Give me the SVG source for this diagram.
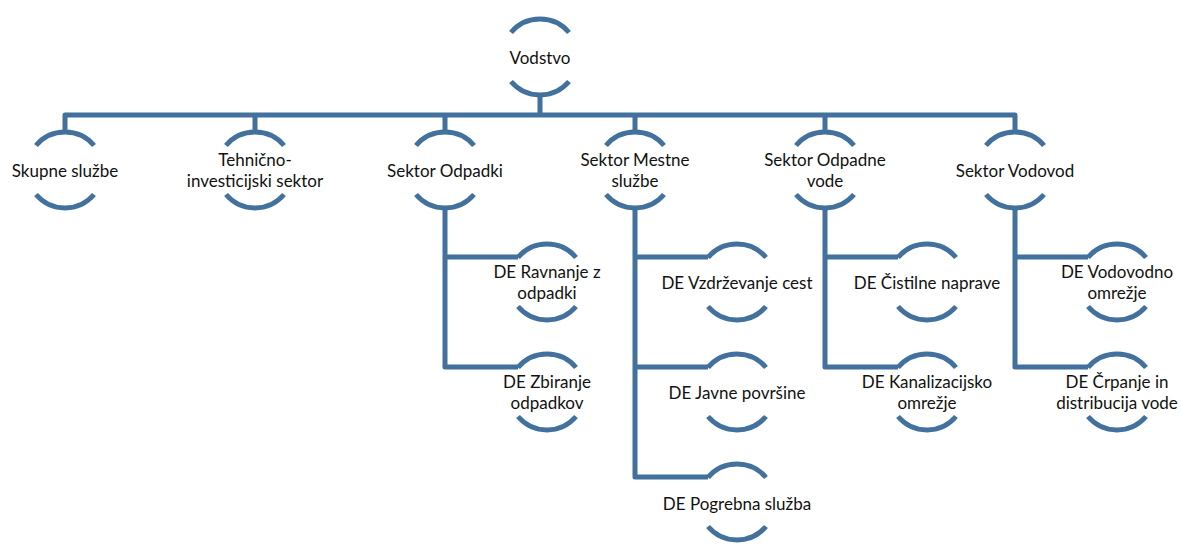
<svg xmlns="http://www.w3.org/2000/svg" width="1181" height="545" viewBox="0 0 1181 545">
<defs>
<style>
.arc{fill:none;stroke:#41719C;stroke-width:5;stroke-linecap:butt}
.con{fill:none;stroke:#41719C;stroke-width:5;stroke-linejoin:round}
text{font-family:Lato,"Liberation Sans",sans-serif;font-size:17px;fill:#111;text-anchor:middle;dominant-baseline:central}
</style>
</defs>
<rect width="1181" height="545" fill="#fff"/>
<g id="connectors">
<path class="con" d="M540 95V115M65 131V115H1015V131M255 115V131M445 115V131M635 115V131M825 115V131"/>
<path class="con" d="M445 208V367H518M445 257H518"/>
<path class="con" d="M635 208V477H708M635 257H708M635 367H708"/>
<path class="con" d="M825 208V367H898M825 257H898"/>
<path class="con" d="M1015 208V367H1088M1015 257H1088"/>
</g>
<g id="vodstvo"><path class="arc" d="M511 32.5A38 38 0 0 1 569 32.5M511 81.5A38 38 0 0 0 569 81.5"/><text x="540" y="57">Vodstvo</text></g>
<g id="skupne"><path class="arc" d="M36 145.5A38 38 0 0 1 94 145.5M36 194.5A38 38 0 0 0 94 194.5"/><text x="65" y="170">Skupne službe</text></g>
<g id="tehnicno"><path class="arc" d="M226 145.5A38 38 0 0 1 284 145.5M226 194.5A38 38 0 0 0 284 194.5"/><text x="255" y="159.5">Tehnično-</text><text x="255" y="180.5">investicijski sektor</text></g>
<g id="odpadki"><path class="arc" d="M416 145.5A38 38 0 0 1 474 145.5M416 194.5A38 38 0 0 0 474 194.5"/><text x="445" y="170">Sektor Odpadki</text></g>
<g id="mestne"><path class="arc" d="M606 145.5A38 38 0 0 1 664 145.5M606 194.5A38 38 0 0 0 664 194.5"/><text x="635" y="159.5">Sektor Mestne</text><text x="635" y="180.5">službe</text></g>
<g id="odpadne"><path class="arc" d="M796 145.5A38 38 0 0 1 854 145.5M796 194.5A38 38 0 0 0 854 194.5"/><text x="825" y="159.5">Sektor Odpadne</text><text x="825" y="180.5">vode</text></g>
<g id="vodovod"><path class="arc" d="M986 145.5A38 38 0 0 1 1044 145.5M986 194.5A38 38 0 0 0 1044 194.5"/><text x="1015" y="170">Sektor Vodovod</text></g>
<g id="ravnanje"><path class="arc" d="M518 257.5A38 38 0 0 1 576 257.5M518 306.5A38 38 0 0 0 576 306.5"/><text x="547" y="271.5">DE Ravnanje z</text><text x="547" y="292.5">odpadki</text></g>
<g id="zbiranje"><path class="arc" d="M518 367.5A38 38 0 0 1 576 367.5M518 416.5A38 38 0 0 0 576 416.5"/><text x="547" y="381.5">DE Zbiranje</text><text x="547" y="402.5">odpadkov</text></g>
<g id="vzdrzevanje"><path class="arc" d="M708 257.5A38 38 0 0 1 766 257.5M708 306.5A38 38 0 0 0 766 306.5"/><text x="737" y="282">DE Vzdrževanje cest</text></g>
<g id="javne"><path class="arc" d="M708 367.5A38 38 0 0 1 766 367.5M708 416.5A38 38 0 0 0 766 416.5"/><text x="737" y="392">DE Javne površine</text></g>
<g id="pogrebna"><path class="arc" d="M708 477.5A38 38 0 0 1 766 477.5M708 526.5A38 38 0 0 0 766 526.5"/><text x="737" y="503">DE Pogrebna služba</text></g>
<g id="cistilne"><path class="arc" d="M898 257.5A38 38 0 0 1 956 257.5M898 306.5A38 38 0 0 0 956 306.5"/><text x="927" y="282">DE Čistilne naprave</text></g>
<g id="kanalizacijsko"><path class="arc" d="M898 367.5A38 38 0 0 1 956 367.5M898 416.5A38 38 0 0 0 956 416.5"/><text x="927" y="381.5">DE Kanalizacijsko</text><text x="927" y="402.5">omrežje</text></g>
<g id="vodovodno"><path class="arc" d="M1088 257.5A38 38 0 0 1 1146 257.5M1088 306.5A38 38 0 0 0 1146 306.5"/><text x="1117" y="271.5">DE Vodovodno</text><text x="1117" y="292.5">omrežje</text></g>
<g id="crpanje"><path class="arc" d="M1088 367.5A38 38 0 0 1 1146 367.5M1088 416.5A38 38 0 0 0 1146 416.5"/><text x="1117" y="381.5">DE Črpanje in</text><text x="1117" y="402.5">distribucija vode</text></g>
</svg>
